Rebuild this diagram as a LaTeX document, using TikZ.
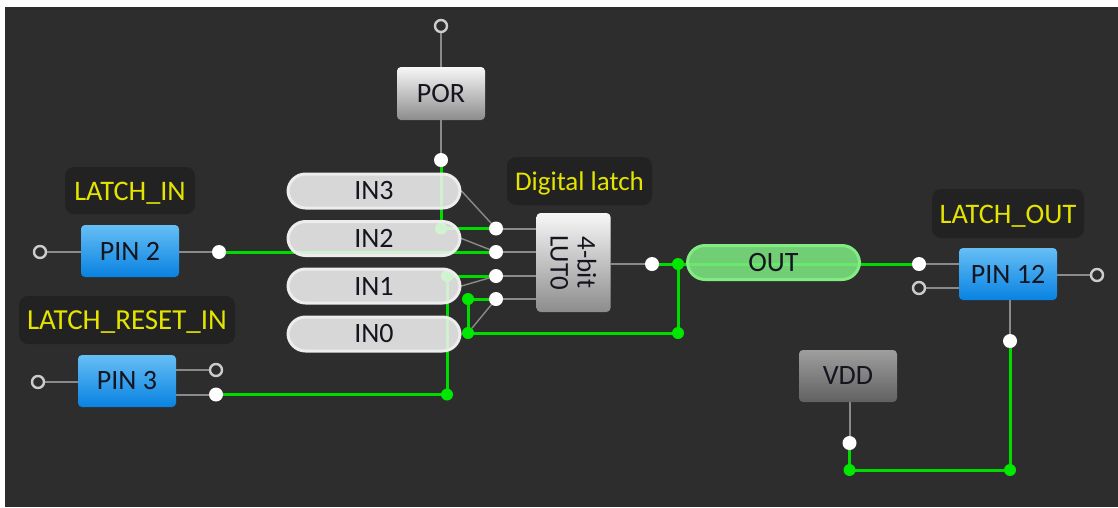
\documentclass[tikz,border=0pt]{standalone}
\usepackage{fontspec}
\setmainfont{Carlito}
\usetikzlibrary{shapes.misc}
\pgfdeclarelayer{panel}
\pgfdeclarelayer{wires}
\pgfsetlayers{panel,wires,main}
\definecolor{panelc}{HTML}{2D2D2D}
\definecolor{labelc}{HTML}{222222}
\definecolor{wirec}{HTML}{00DC00}
\definecolor{gdotc}{HTML}{00E800}
\definecolor{stubc}{HTML}{8A8A8A}
\definecolor{txtc}{HTML}{15151F}
\definecolor{ylw}{HTML}{E4E400}
\newcommand{\tagtxt}[2]{\fontsize{#1}{#1}\selectfont\rule{0pt}{24pt}\rule[-5pt]{0pt}{5pt}#2}
\tikzset{
  txtbase/.style={font=\fontsize{28}{30}\selectfont,text=txtc},
  blockbase/.style={txtbase,rectangle,rounded corners=4pt,inner sep=0pt,minimum width=98pt,minimum height=52pt},
  pinblue/.style={blockbase,top color={rgb,255:red,102;green,190;blue,245},bottom color={rgb,255:red,8;green,130;blue,225}},
  lightbox/.style={blockbase,top color=white!97!black,bottom color=black!45!white},
  vddbox/.style={blockbase,top color=black!38!white,bottom color=black!62!white},
  pill/.style={txtbase,rectangle,rounded corners=17.5pt,inner sep=0pt,minimum width=172pt,minimum height=34pt,draw=white!93!black,line width=3pt,fill={rgb,255:red,245;green,245;blue,245},fill opacity=.85,text opacity=1},
  outpill/.style={pill,draw={rgb,255:red,130;green,235;blue,130},fill={rgb,255:red,125;green,235;blue,130},fill opacity=.85},
  tag/.style={rectangle,rounded corners=9pt,fill=labelc,text=ylw,inner sep=0pt},
  opendot/.style={circle,draw=white!80!black,line width=2.4pt,fill=panelc,minimum size=12pt,inner sep=0pt},
  dot/.style={circle,fill=white,minimum size=14pt,inner sep=0pt},
  gdot/.style={circle,fill=gdotc,minimum size=12pt,inner sep=0pt},
  wire/.style={draw=wirec,line width=3pt},
  stub/.style={draw=stubc,line width=2pt},
}
\begin{document}
\begin{tikzpicture}[x=1pt,y=-1pt]
\useasboundingbox (0,0) rectangle (1118,507);
\begin{pgfonlayer}{panel}
\fill[white] (0,0) rectangle (1118,507);
\fill[panelc] (5,7) rectangle (1118,507);
\end{pgfonlayer}
% labels
\node[tag,minimum width=145pt,minimum height=48pt] (tagD) at (579.5,181) {\tagtxt{27}{Digital latch}};
\node[tag,minimum width=130pt,minimum height=47pt] (tagI) at (130,190.5) {\tagtxt{28.3}{LATCH\_IN}};
\node[tag,minimum width=216pt,minimum height=48pt] (tagR) at (127,320) {\tagtxt{29}{LATCH\_RESET\_IN}};
\node[tag,minimum width=152pt,minimum height=49pt] (tagO) at (1008,213.5) {\tagtxt{28.3}{LATCH\_OUT}};
% blocks
\node[pinblue] (pin2) at (130,251) {PIN 2};
\node[pinblue] (pin3) at (127,381) {PIN 3};
\node[pinblue] (pin12) at (1008,274) {PIN 12};
\node[vddbox] (vdd) at (848,376) {VDD};
\node[lightbox,minimum width=88pt,minimum height=53pt] (por) at (441,93.5) {POR};
\node[lightbox,minimum width=74pt,minimum height=99pt,align=center] (lut) at (573.5,262.5) {\rotatebox{-90}{\parbox{80pt}{\centering\fontsize{27}{28}\selectfont 4-bit\\[-1pt]LUT0}}};
% pills
\node[pill] (in3) at (374,191) {IN3};
\node[pill] (in2) at (374,238.5) {IN2};
\node[pill] (in1) at (374,286) {IN1};
\node[pill] (in0) at (374,334) {IN0};
\node[outpill] (out) at (773.5,262.5) {OUT};
% open dots
\node[opendot] (oPorT) at (441,26) {};
\node[opendot] (oP2) at (40,252) {};
\node[opendot] (oP3) at (38,382) {};
\node[opendot] (oP3b) at (216,370) {};
\node[opendot] (oP12a) at (919,288) {};
\node[opendot] (oP12b) at (1097,275) {};
% white dots
\node[dot] (dPor) at (441,160) {};
\node[dot] (dP2) at (219,252) {};
\node[dot] (dP3) at (216,394.5) {};
\node[dot] (dL3) at (496,228.5) {};
\node[dot] (dL2) at (496,252) {};
\node[dot] (dL1) at (496,276) {};
\node[dot] (dL0) at (496,299) {};
\node[dot] (dLo) at (652,264) {};
\node[dot] (dP12) at (919,264) {};
\node[dot] (dP12s) at (1010,341) {};
\node[dot] (dV) at (849.5,443) {};
% green junctions
\node[gdot] (gR) at (447,394.5) {};
\node[gdot] (gA) at (468,299) {};
\node[gdot] (gB) at (468,333) {};
\node[gdot] (gC) at (678,264) {};
\node[gdot] (gD) at (678,333) {};
\node[gdot] (gE) at (849.5,470) {};
\node[gdot] (gF) at (1010,470) {};
\begin{pgfonlayer}{wires}
% junctions lying under the pills
\node[gdot] (gP) at (441,228.5) {};
\node[gdot] (gQ) at (447,276) {};
% grey stubs
\draw[stub] (oPorT) -- (por);
\draw[stub] (por) -- (dPor);
\draw[stub] (oP2) -- (oP2 -| pin2.west);
\draw[stub] (pin2.east |- dP2) -- (dP2);
\draw[stub] (oP3) -- (oP3 -| pin3.west);
\draw[stub] (oP3b) -- (oP3b -| pin3.east);
\draw[stub] (dP3) -- (dP3 -| pin3.east);
\draw[stub] (dL3) -- (dL3 -| lut.west);
\draw[stub] (dL2) -- (dL2 -| lut.west);
\draw[stub] (dL1) -- (dL1 -| lut.west);
\draw[stub] (dL0) -- (dL0 -| lut.west);
\draw[stub] (dLo) -- (dLo -| lut.east);
\draw[stub] (dP12) -- (dP12 -| pin12.west);
\draw[stub] (oP12a) -- (oP12a -| pin12.west);
\draw[stub] (oP12b) -- (oP12b -| pin12.east);
\draw[stub] (dP12s) -- (dP12s |- pin12.south);
\draw[stub] (vdd.south -| dV) -- (dV);
\draw[stub,line width=1.4pt] (in3.east) -- (dL3);
\draw[stub,line width=1.4pt] (in2.east) -- (dL2);
\draw[stub,line width=1.4pt] (in1.east) -- (dL1);
\draw[stub,line width=1.4pt] (gB) -- (dL0);
% green wires
\draw[wire] (dPor.center) -- (gP.center) -- (dL3.center);
\draw[wire] (dP2.center) -- (dL2.center);
\draw[wire] (dP3.center) -- (gR.center) -- (gQ.center) -- (dL1.center);
\draw[wire] (dL0.center) -- (gA.center) -- (gB.center) -- (gD.center) -- (gC.center);
\draw[wire] (dLo.center) -- (dP12.center);
\draw[wire] (dP12s.center) -- (gF.center) -- (gE.center) -- (dV.center);
\end{pgfonlayer}
\end{tikzpicture}
\end{document}
